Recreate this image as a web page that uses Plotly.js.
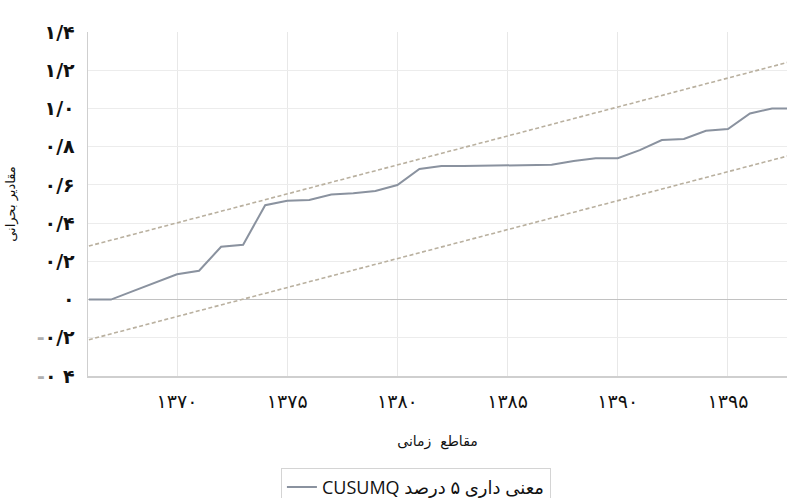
<!DOCTYPE html>
<html>
<head>
<meta charset="utf-8">
<script src="https://cdn.plot.ly/plotly-3.0.1.min.js"></script>
<style>html,body{margin:0;padding:0;background:#fff;}#chart{width:787px;height:498px;}</style>
</head>
<body>
<div id="chart"></div>
<script>
// Years (Persian calendar)
var years = [1366,1367,1368,1369,1370,1371,1372,1373,1374,1375,1376,1377,1378,1379,1380,1381,1382,1383,1384,1385,1386,1387,1388,1389,1390,1391,1392,1393,1394,1395,1396,1397,1398];
// CUSUMQ statistic
var cusumq = [0,0,0.044,0.086,0.132,0.151,0.276,0.287,0.494,0.517,0.521,0.55,0.556,0.568,0.599,0.683,0.699,0.699,0.700,0.703,0.704,0.705,0.725,0.739,0.740,0.782,0.835,0.84,0.883,0.892,0.974,1.0,1.0];
// 5% significance bounds (straight lines, endpoints)
var boundYears = [1366, 1398];
var upperBound = [0.28, 1.25];
var lowerBound = [-0.21, 0.76];
// Tick labels
var xTickVals = [1370,1375,1380,1385,1390,1395];
var xTickText = ['۱۳۷۰','۱۳۷۵','۱۳۸۰','۱۳۸۵','۱۳۹۰','۱۳۹۵'];
var yTickVals = [1.4,1.2,1.0,0.8,0.6,0.4,0.2,0,-0.2,-0.4];
var yTickText = ['۱/۴','۱/۲','۱/۰','۰/۸','۰/۶','۰/۴','۰/۲','۰','<span style="color:#b0b0b0">-</span>۰/۲','<span style="color:#b0b0b0">-</span>۰ ۴'];
var legendName = 'CUSUMQ معنی داری ۵ درصد';
var xTitle = 'مقاطع  زمانی';
var yTitle = 'مقادیر بحرانی';

var boundStyle = {color:'#b9b09f', width:1.6, dash:'4px,2.5px'};
var traces = [
  {x: boundYears, y: upperBound, mode:'lines', line: boundStyle, showlegend:false, hoverinfo:'skip'},
  {x: boundYears, y: lowerBound, mode:'lines', line: boundStyle, showlegend:false, hoverinfo:'skip'},
  {x: years, y: cusumq, mode:'lines', name: legendName, line:{color:'#8a929f', width:2}, showlegend:true}
];

var fontFam = '"DejaVu Sans", "Noto Sans", sans-serif';
var layout = {
  width: 787, height: 498,
  margin: {l:88, r:0, t:32, b:122, pad:0, autoexpand:false},
  paper_bgcolor:'#ffffff', plot_bgcolor:'#ffffff',
  font: {family: fontFam, color:'#000'},
  showlegend: true,
  legend: {
    x: 0.276, xanchor:'left', y: -0.267, yanchor:'top',
    bordercolor:'#d4d4d4', borderwidth:1,
    font:{size:18, family:'"Open Sans", "DejaVu Sans", sans-serif', color:'#111'},
    bgcolor:'#ffffff'
  },
  xaxis: {
    range:[1365.96, 1397.68],
    tickvals: xTickVals, ticktext: xTickText,
    tickfont:{size:19, color:'#111', family: fontFam},
    showgrid:true, gridcolor:'#e8e8e8', gridwidth:1,
    showline:true, linecolor:'#cfcfcf', linewidth:1.5,
    zeroline:false, ticks:'', ticklabelstandoff: 8,
    title:{text: xTitle, font:{size:14, color:'#111', family: fontFam}, standoff: 25}
  },
  yaxis: {
    range:[-0.4, 1.4],
    tickvals: yTickVals, ticktext: yTickText,
    tickfont:{size:19, color:'#111', family: fontFam, weight:'bold'},
    showgrid:true, gridcolor:'#ececec', gridwidth:1,
    showline:true, linecolor:'#cfcfcf', linewidth:1.5,
    zeroline:true, zerolinecolor:'#c2c2c2', zerolinewidth:1.5,
    ticks:'', ticklabelstandoff: 8,
    title:{text: yTitle, font:{size:13, color:'#111', family: fontFam}, standoff: 18}
  }
};
Plotly.newPlot('chart', traces, layout, {displayModeBar:false, staticPlot:true});
</script>
</body>
</html>
